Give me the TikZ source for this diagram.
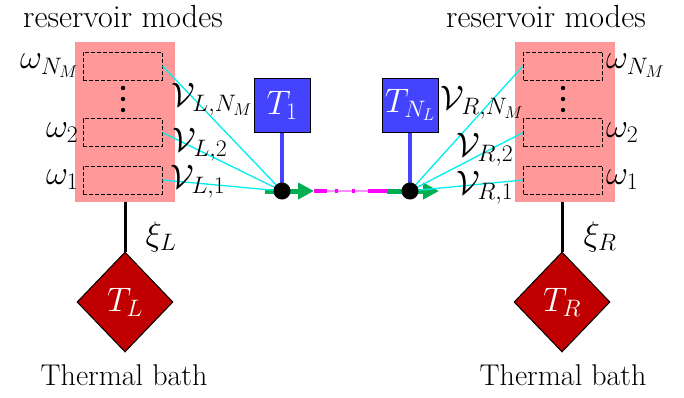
\documentclass[tikz,border=0pt]{standalone}
\usepackage{fix-cm}
\usepackage{amsmath,amsfonts}
\usepackage{tikz}
\usetikzlibrary{shapes.geometric, arrows.meta, positioning}
\definecolor{respink}{RGB}{255, 153, 153}
\definecolor{sitblue}{RGB}{68, 68, 255}
\definecolor{bathred}{RGB}{192, 0, 0}
\definecolor{flowgreen}{RGB}{0, 176, 80}
\definecolor{linkcyan}{RGB}{0, 238, 238}
\definecolor{chainpink}{RGB}{255, 0, 255}
\tikzset{
    reservoir/.style={rectangle, fill=respink, minimum width=100pt, minimum height=160pt, inner sep=0pt},
    modebox/.style={rectangle, draw=black, dash pattern=on 4pt off 2pt, line width=1pt, minimum width=79pt, minimum height=28pt, inner sep=0pt},
    tempbox/.style={rectangle, draw=black, fill=sitblue, line width=1pt, minimum width=56pt, minimum height=54pt, inner sep=0pt, text=white, font=\fontsize{34}{40}\selectfont},
    sitedot/.style={circle, fill=black, minimum size=17pt, inner sep=0pt},
    bathbox/.style={diamond, draw=black, fill=bathred, line width=1pt, minimum width=96pt, minimum height=100pt, inner sep=0pt, text=white, font=\fontsize{34}{40}\selectfont},
    coupling/.style={draw=linkcyan, line width=1.3pt},
    flow/.style={draw=flowgreen, line width=5pt, -{Triangle[length=16pt, width=16pt]}},
    mathlabel/.style={inner sep=0pt, font=\fontsize{34}{40}\selectfont},
    titlelabel/.style={inner sep=0pt, font=\fontsize{32}{38}\selectfont},
    bathlabel/.style={inner sep=0pt, font=\fontsize{30}{36}\selectfont},
}
\begin{document}
\begin{tikzpicture}[x=1pt, y=-1pt]
    \useasboundingbox (0,0) rectangle (684,397);

    % left reservoir
    \node[reservoir] (resL) at (125,122) {};
    \node[modebox] (modeL3) at (122.5,66) {};
    \node[modebox] (modeL2) at (122.5,132.5) {};
    \node[modebox] (modeL1) at (122.5,180) {};
    \foreach \y in {88,99,110} \fill (123,\y) circle (2.2pt);
    \node[mathlabel, left=4pt of modeL3] {$\omega_{N_M}$};
    \node[mathlabel, left=4pt of modeL2] {$\omega_2$};
    \node[mathlabel, left=4pt of modeL1] {$\omega_1$};
    \node[titlelabel] (titleL) at (123,17) {reservoir modes};

    % right reservoir
    \node[reservoir] (resR) at (565,122) {};
    \node[modebox] (modeR3) at (563,66) {};
    \node[modebox] (modeR2) at (563,132.5) {};
    \node[modebox] (modeR1) at (563,180) {};
    \foreach \y in {88,99,110} \fill (563,\y) circle (2.2pt);
    \node[mathlabel, right=3pt of modeR3] {$\omega_{N_M}$};
    \node[mathlabel, right=3pt of modeR2] {$\omega_2$};
    \node[mathlabel, right=3pt of modeR1] {$\omega_1$};
    \node[titlelabel] (titleR) at (546,17) {reservoir modes};

    % chain sites
    \coordinate (hubA) at (282,191);
    \coordinate (hubB) at (410,191);
    \node[tempbox] (tempA) at (282,105) {$T_1$};
    \node[tempbox] (tempB) at (410,105) {$T_{N_L}$};
    \draw[sitblue, line width=4pt] (tempA.south) -- (hubA);
    \draw[sitblue, line width=4pt] (tempB.south) -- (hubB);

    \coordinate (flowAin) at (265,191);
    \coordinate (flowAout) at (314,191);
    \coordinate (flowBin) at (387,191);
    \coordinate (flowBout) at (439,191);
    \draw[chainpink!45, line width=1.6pt] (flowAout) -- (flowBin);
    \draw[chainpink, line width=4pt, dash pattern=on 13pt off 8pt on 3pt off 14pt on 3pt off 13pt on 30pt] (flowAout) -- (flowBin);
    \draw[flow] (flowAin) -- (flowAout);
    \draw[flow] (flowBin) -- (flowBout);

    % couplings
    \draw[coupling] (modeL3.east) -- (hubA);
    \draw[coupling] (modeL2.east) -- (hubA);
    \draw[coupling] (modeL1.east) -- (hubA);
    \draw[coupling] (modeR3.west) -- (hubB);
    \draw[coupling] (modeR2.west) -- (hubB);
    \draw[coupling] (modeR1.west) -- (hubB);
    \node[sitedot] (siteA) at (hubA) {};
    \node[sitedot] (siteB) at (hubB) {};

    \node[mathlabel] (linkL3) at (212,100) {$\mathcal{V}_{L,N_M}$};
    \node[mathlabel] (linkL2) at (200,145) {$\mathcal{V}_{L,2}$};
    \node[mathlabel] (linkL1) at (198,182) {$\mathcal{V}_{L,1}$};
    \node[mathlabel] (linkR3) at (482,103) {$\mathcal{V}_{R,N_M}$};
    \node[mathlabel] (linkR2) at (485,150) {$\mathcal{V}_{R,2}$};
    \node[mathlabel] (linkR1) at (485,188) {$\mathcal{V}_{R,1}$};

    % thermal baths
    \node[bathbox] (bathL) at (125,302) {$T_L$};
    \node[bathbox] (bathR) at (562,302) {$T_R$};
    \draw[line width=3pt] (resL.south) -- (bathL.north);
    \draw[line width=3pt] (resR.south -| bathR.north) -- (bathR.north);
    \node[mathlabel] (xiL) at (161,237) {$\xi_L$};
    \node[mathlabel] (xiR) at (600,237) {$\xi_R$};
    \node[bathlabel] (thermL) at (124,375) {Thermal bath};
    \node[bathlabel] (thermR) at (563,375) {Thermal bath};
\end{tikzpicture}
\end{document}
